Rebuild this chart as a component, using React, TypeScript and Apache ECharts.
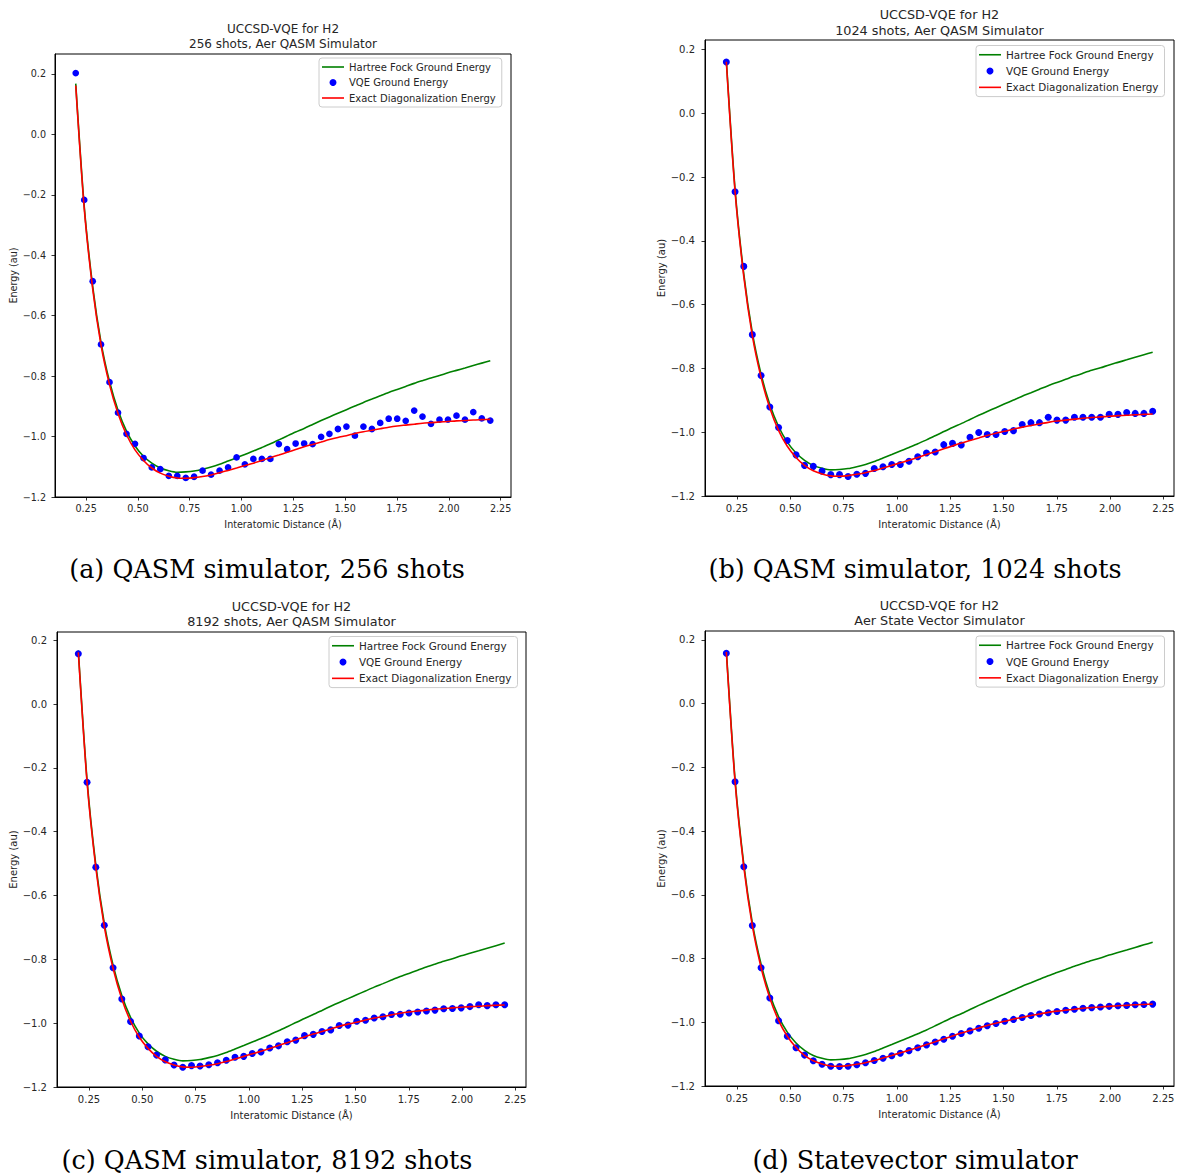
import React, { useEffect, useRef } from 'react';
import * as echarts from 'echarts';

// Interatomic distances (Å)
const distances = [0.200,0.241,0.282,0.322,0.363,0.404,0.445,0.486,0.527,0.567,0.608,0.649,0.690,0.731,0.771,0.812,0.853,0.894,0.935,0.976,1.016,1.057,1.098,1.139,1.180,1.220,1.261,1.302,1.343,1.384,1.424,1.465,1.506,1.547,1.588,1.629,1.669,1.710,1.751,1.792,1.833,1.873,1.914,1.955,1.996,2.037,2.078,2.118,2.159,2.200];

const hartreeFock = [0.168,-0.238,-0.504,-0.688,-0.818,-0.913,-0.982,-1.031,-1.065,-1.088,-1.104,-1.113,-1.118,-1.117,-1.114,-1.108,-1.101,-1.092,-1.081,-1.070,-1.059,-1.048,-1.036,-1.024,-1.011,-0.998,-0.985,-0.973,-0.960,-0.947,-0.935,-0.923,-0.911,-0.899,-0.887,-0.876,-0.865,-0.854,-0.844,-0.834,-0.824,-0.815,-0.806,-0.798,-0.789,-0.781,-0.773,-0.765,-0.757,-0.749];

const exactEnergy = [0.162,-0.245,-0.512,-0.697,-0.828,-0.924,-0.994,-1.044,-1.079,-1.104,-1.121,-1.131,-1.137,-1.138,-1.136,-1.132,-1.127,-1.120,-1.112,-1.104,-1.096,-1.088,-1.079,-1.070,-1.061,-1.052,-1.043,-1.034,-1.026,-1.018,-1.010,-1.003,-0.997,-0.990,-0.984,-0.979,-0.974,-0.969,-0.965,-0.962,-0.959,-0.956,-0.954,-0.952,-0.950,-0.948,-0.947,-0.945,-0.944,-0.943];

const vqe256 = [0.203,-0.217,-0.486,-0.695,-0.820,-0.921,-0.991,-1.024,-1.071,-1.102,-1.108,-1.130,-1.130,-1.137,-1.133,-1.113,-1.126,-1.113,-1.102,-1.069,-1.092,-1.074,-1.074,-1.074,-1.025,-1.042,-1.023,-1.023,-1.025,-1.001,-0.991,-0.975,-0.967,-0.997,-0.967,-0.975,-0.955,-0.941,-0.941,-0.948,-0.914,-0.934,-0.958,-0.944,-0.944,-0.931,-0.944,-0.919,-0.940,-0.947];

const vqe1024 = [0.161,-0.246,-0.480,-0.694,-0.822,-0.921,-0.985,-1.026,-1.071,-1.104,-1.107,-1.122,-1.133,-1.133,-1.139,-1.132,-1.129,-1.114,-1.108,-1.101,-1.101,-1.091,-1.077,-1.065,-1.062,-1.039,-1.035,-1.040,-1.016,-1.001,-1.007,-1.007,-0.998,-0.995,-0.976,-0.970,-0.970,-0.953,-0.962,-0.962,-0.953,-0.953,-0.953,-0.953,-0.944,-0.944,-0.938,-0.941,-0.941,-0.934];

const vqe8192 = [0.158,-0.245,-0.511,-0.693,-0.826,-0.924,-0.995,-1.040,-1.074,-1.100,-1.115,-1.131,-1.138,-1.133,-1.134,-1.130,-1.124,-1.116,-1.107,-1.104,-1.095,-1.090,-1.078,-1.071,-1.058,-1.053,-1.039,-1.035,-1.026,-1.021,-1.007,-1.006,-0.994,-0.991,-0.984,-0.980,-0.973,-0.972,-0.968,-0.965,-0.962,-0.959,-0.955,-0.954,-0.952,-0.948,-0.942,-0.945,-0.942,-0.942];

const vqeStatevector = [0.158,-0.245,-0.512,-0.696,-0.829,-0.924,-0.995,-1.044,-1.080,-1.103,-1.121,-1.132,-1.138,-1.139,-1.138,-1.133,-1.127,-1.120,-1.113,-1.105,-1.097,-1.089,-1.080,-1.071,-1.062,-1.053,-1.044,-1.035,-1.027,-1.019,-1.011,-1.004,-0.997,-0.991,-0.985,-0.979,-0.974,-0.970,-0.966,-0.962,-0.959,-0.956,-0.954,-0.952,-0.950,-0.948,-0.947,-0.945,-0.944,-0.943];

const xTicks = [0.25, 0.5, 0.75, 1.0, 1.25, 1.5, 1.75, 2.0, 2.25];
const yTicks = [-1.2, -1.0, -0.8, -0.6, -0.4, -0.2, 0.0, 0.2];

const titleLine1 = 'UCCSD-VQE for H2';
const subtitles = ['256 shots, Aer QASM Simulator', '1024 shots, Aer QASM Simulator', '8192 shots, Aer QASM Simulator', 'Aer State Vector Simulator'];
const captions = ['(a) QASM simulator, 256 shots', '(b) QASM simulator, 1024 shots', '(c) QASM simulator, 8192 shots', '(d) Statevector simulator'];
const legendNames = ['Hartree Fock Ground Energy', 'VQE Ground Energy', 'Exact Diagonalization Energy'];
const vqeSets = [vqe256, vqe1024, vqe8192, vqeStatevector];

// layout of each panel (pixels)
const panels = [
  { left: 55, top: 54, width: 456, height: 443, yMax: 0.266, fs: 9.6, tfs: 12, t1: 29, t2: 44, lgLeft: 319, lgTop: 58, lfs: 10, lh: 14, gap: 1.5, capX: 267, capY: 569, yGap: 37, xGap: 22, xMargin: 6, yMargin: 9 },
  { left: 705, top: 40, width: 469, height: 456, yMax: 0.23, fs: 10, tfs: 12.8, t1: 14.5, t2: 30.5, lgLeft: 976, lgTop: 45.5, lfs: 10.4, lh: 14.5, gap: 1.8, capX: 915, capY: 569, yGap: 39, xGap: 23, xMargin: 7, yMargin: 10 },
  { left: 57, top: 632, width: 469, height: 455, yMax: 0.226, fs: 10, tfs: 12.8, t1: 606, t2: 621, lgLeft: 329, lgTop: 636.5, lfs: 10.4, lh: 14.5, gap: 1.8, capX: 267, capY: 1160, yGap: 39, xGap: 23, xMargin: 7, yMargin: 10 },
  { left: 705, top: 631, width: 469, height: 455, yMax: 0.228, fs: 10, tfs: 12.8, t1: 605, t2: 620, lgLeft: 976, lgTop: 636, lfs: 10.4, lh: 14.5, gap: 1.8, capX: 915, capY: 1160, yGap: 39, xGap: 23, xMargin: 7, yMargin: 10 },
];

const FONT = '"DejaVu Sans", sans-serif';
const TXT = '#262626';
const LINE_ICON = 'path://M0,0 L22,0 L22,1.6 L0,1.6 Z';

function buildOption() {
  const grid: any[] = [];
  const xAxis: any[] = [];
  const yAxis: any[] = [];
  const series: any[] = [];
  const legend: any[] = [];
  const elements: any[] = [];

  panels.forEach((p, i) => {
    grid.push({
      left: p.left, top: p.top, width: p.width, height: p.height,
      show: true, borderColor: '#000', borderWidth: 1, backgroundColor: '#fff',
      containLabel: false, outerBoundsMode: 'none',
    });
    xAxis.push({
      type: 'value', gridIndex: i, min: 0.1, max: 2.3,
      name: 'Interatomic Distance (Å)', nameLocation: 'middle', nameGap: p.xGap,
      nameTextStyle: { fontFamily: FONT, fontSize: p.fs, color: TXT },
      axisLine: { show: true, onZero: false, lineStyle: { color: '#000', width: 1 } },
      axisTick: { show: true, length: 3.5, lineStyle: { color: '#000', width: 0.8 }, customValues: xTicks },
      axisLabel: { show: true, margin: p.xMargin, fontFamily: FONT, fontSize: p.fs, color: TXT, customValues: xTicks, formatter: (v: number) => v.toFixed(2) },
      splitLine: { show: false },
    });
    yAxis.push({
      type: 'value', gridIndex: i, min: -1.2, max: p.yMax,
      name: 'Energy (au)', nameLocation: 'middle', nameGap: p.yGap, nameRotate: 90,
      nameTextStyle: { fontFamily: FONT, fontSize: p.fs, color: TXT },
      axisLine: { show: true, onZero: false, lineStyle: { color: '#000', width: 1 } },
      axisTick: { show: true, length: 3.5, lineStyle: { color: '#000', width: 0.8 }, customValues: yTicks },
      axisLabel: { show: true, margin: p.yMargin, fontFamily: FONT, fontSize: p.fs, color: TXT, customValues: yTicks, formatter: (v: number) => (v < -1e-9 ? '\u2212' : '') + Math.abs(v).toFixed(1) },
      splitLine: { show: false },
    });
    const vqe = vqeSets[i];
    series.push({
      name: legendNames[0], type: 'line', xAxisIndex: i, yAxisIndex: i,
      data: distances.map((d, k) => [d, hartreeFock[k]]),
      showSymbol: false, symbol: 'none', smooth: 0.25,
      lineStyle: { color: '#008000', width: 1.6 }, itemStyle: { color: '#008000' },
      silent: true, z: 2,
    });
    series.push({
      name: legendNames[1], type: 'scatter', xAxisIndex: i, yAxisIndex: i,
      data: distances.map((d, k) => [d, vqe[k]]),
      symbol: 'circle', symbolSize: i === 0 ? 6.7 : 7, itemStyle: { color: '#0000ff', opacity: 1 },
      silent: true, z: 3,
    });
    series.push({
      name: legendNames[2], type: 'line', xAxisIndex: i, yAxisIndex: i,
      data: distances.map((d, k) => [d, exactEnergy[k]]),
      showSymbol: false, symbol: 'none', smooth: 0.25,
      lineStyle: { color: '#ff0000', width: 1.6 }, itemStyle: { color: '#ff0000' },
      silent: true, z: 4,
    });
    legend.push({
      data: [
        { name: legendNames[0], icon: LINE_ICON, itemStyle: { color: '#008000' } },
        { name: legendNames[1], icon: 'circle', itemStyle: { color: '#0000ff' } },
        { name: legendNames[2], icon: LINE_ICON, itemStyle: { color: '#ff0000' } },
      ],
      orient: 'vertical', left: p.lgLeft, top: p.lgTop,
      itemWidth: 22, itemHeight: 7, itemGap: p.gap,
      padding: [2, 6, 2, 3],
      backgroundColor: 'rgba(255,255,255,0.85)', borderColor: '#cccccc', borderWidth: 1, borderRadius: 3,
      textStyle: { fontFamily: FONT, fontSize: p.lfs, color: TXT, lineHeight: p.lh },
      selectedMode: false, z: 10,
    });
    const cx = p.left + p.width / 2;
    elements.push({ type: 'text', x: cx, y: p.t1, style: { text: titleLine1, fontFamily: FONT, fontSize: p.tfs, fill: TXT, align: 'center', verticalAlign: 'middle' } });
    elements.push({ type: 'text', x: cx, y: p.t2, style: { text: subtitles[i], fontFamily: FONT, fontSize: p.tfs, fill: TXT, align: 'center', verticalAlign: 'middle' } });
    elements.push({ type: 'text', x: p.capX, y: p.capY, style: { text: captions[i], fontFamily: '"DejaVu Serif", serif', fontSize: 25.5, fill: '#000', align: 'center', verticalAlign: 'middle' } });
  });

  return {
    animation: false,
    backgroundColor: '#ffffff',
    textStyle: { fontFamily: FONT },
    grid, xAxis, yAxis, series, legend,
    graphic: { elements },
  };
}

export default function App() {
  const ref = useRef<HTMLDivElement>(null);
  useEffect(() => {
    document.body.style.margin = '0';
    if (!ref.current) return;
    const chart = echarts.init(ref.current, null, { renderer: 'svg' });
    chart.setOption(buildOption() as any);
    return () => chart.dispose();
  }, []);
  return <div ref={ref} style={{ width: 1177, height: 1175 }} />;
}
